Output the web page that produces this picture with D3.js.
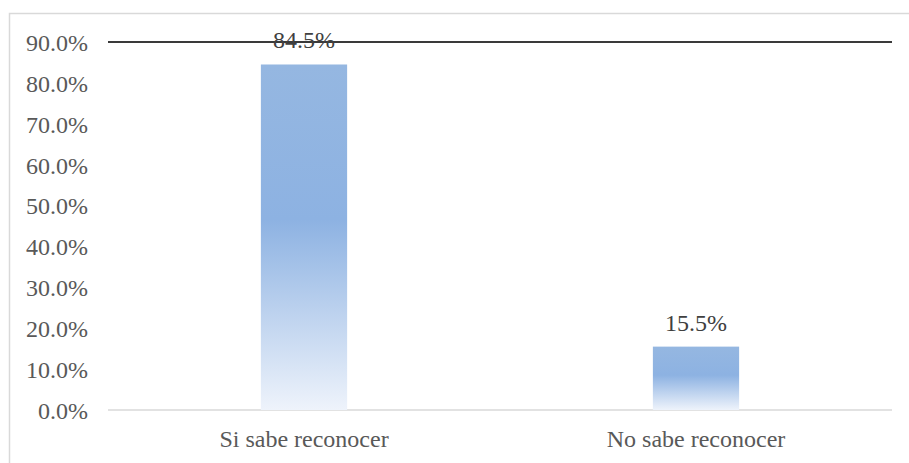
<!DOCTYPE html>
<html>
<head>
<meta charset="utf-8">
<script src="https://cdn.jsdelivr.net/npm/d3@7"></script>
<style>
  html, body { margin: 0; padding: 0; background: #fff; }
  svg { display: block; }
</style>
</head>
<body>
<svg id="chart" width="909" height="463"></svg>
<script>
// Chart data
const categories = ["Si sabe reconocer", "No sabe reconocer"];
const values = [84.5, 15.5];
const tickValues = [0, 10, 20, 30, 40, 50, 60, 70, 80, 90];

const W = 909, H = 463;
const margin = { left: 108, right: 17, top: 42, bottom: 53 };
const fontSize = 24;

const svg = d3.select("#chart");
const font = "'Liberation Serif', 'Times New Roman', serif";

// Outer chart frame
svg.append("rect")
  .attr("x", 9.5).attr("y", 13.5)
  .attr("width", W).attr("height", H)
  .attr("fill", "none").attr("stroke", "#D9D9D9").attr("stroke-width", 1.5);

const x = d3.scaleBand()
  .domain(categories)
  .range([margin.left, W - margin.right])
  .padding(0);

const y = d3.scaleLinear()
  .domain([0, 90])
  .range([H - margin.bottom, margin.top]);

// Vertical gradient used by the bars
const defs = svg.append("defs");
const grad = defs.append("linearGradient")
  .attr("id", "barGrad")
  .attr("x1", 0).attr("y1", 0).attr("x2", 0).attr("y2", 1);
grad.append("stop").attr("offset", "0%").attr("stop-color", "#95B7E1");
grad.append("stop").attr("offset", "45%").attr("stop-color", "#8DB2E2");
grad.append("stop").attr("offset", "100%").attr("stop-color", "#EEF3FB");

// Y axis labels
const yAxis = d3.axisLeft(y)
  .tickValues(tickValues)
  .tickSize(0)
  .tickPadding(0)
  .tickFormat(d => d.toFixed(1) + "%");

const yg = svg.append("g")
  .attr("transform", `translate(${88},0)`)
  .call(yAxis);
yg.select(".domain").remove();
yg.selectAll("text")
  .attr("font-family", font)
  .attr("font-size", fontSize)
  .attr("fill", "#595959")
  .attr("dy", "0.35em");

// Baseline at 0%
svg.append("line")
  .attr("x1", margin.left).attr("x2", W - margin.right)
  .attr("y1", y(0)).attr("y2", y(0))
  .attr("stroke", "#D9D9D9").attr("stroke-width", 1.5);

// Bars
const barWidth = x.bandwidth() * 0.22;
svg.selectAll("rect.bar")
  .data(values)
  .join("rect")
  .attr("class", "bar")
  .attr("x", (d, i) => x(categories[i]) + x.bandwidth() / 2 - barWidth / 2)
  .attr("y", d => y(d))
  .attr("width", barWidth)
  .attr("height", d => y(0) - y(d))
  .attr("fill", "url(#barGrad)");

// Line at the 90% level
svg.append("line")
  .attr("x1", margin.left).attr("x2", W - margin.right)
  .attr("y1", y(90)).attr("y2", y(90))
  .attr("stroke", "#3A3A3A").attr("stroke-width", 2);

// Value labels
svg.selectAll("text.val")
  .data(values)
  .join("text")
  .attr("class", "val")
  .attr("x", (d, i) => x(categories[i]) + x.bandwidth() / 2)
  .attr("y", d => y(d) - 16)
  .attr("text-anchor", "middle")
  .attr("font-family", font)
  .attr("font-size", fontSize)
  .attr("fill", "#404040")
  .text(d => d.toFixed(1) + "%");

// Category labels
const xAxis = d3.axisBottom(x).tickSize(0).tickPadding(0);
const xg = svg.append("g")
  .attr("transform", `translate(0,${y(0)})`)
  .call(xAxis);
xg.select(".domain").remove();
xg.selectAll("text")
  .attr("font-family", font)
  .attr("font-size", fontSize)
  .attr("fill", "#595959")
  .attr("dy", 0)
  .attr("y", 37);
</script>
</body>
</html>
